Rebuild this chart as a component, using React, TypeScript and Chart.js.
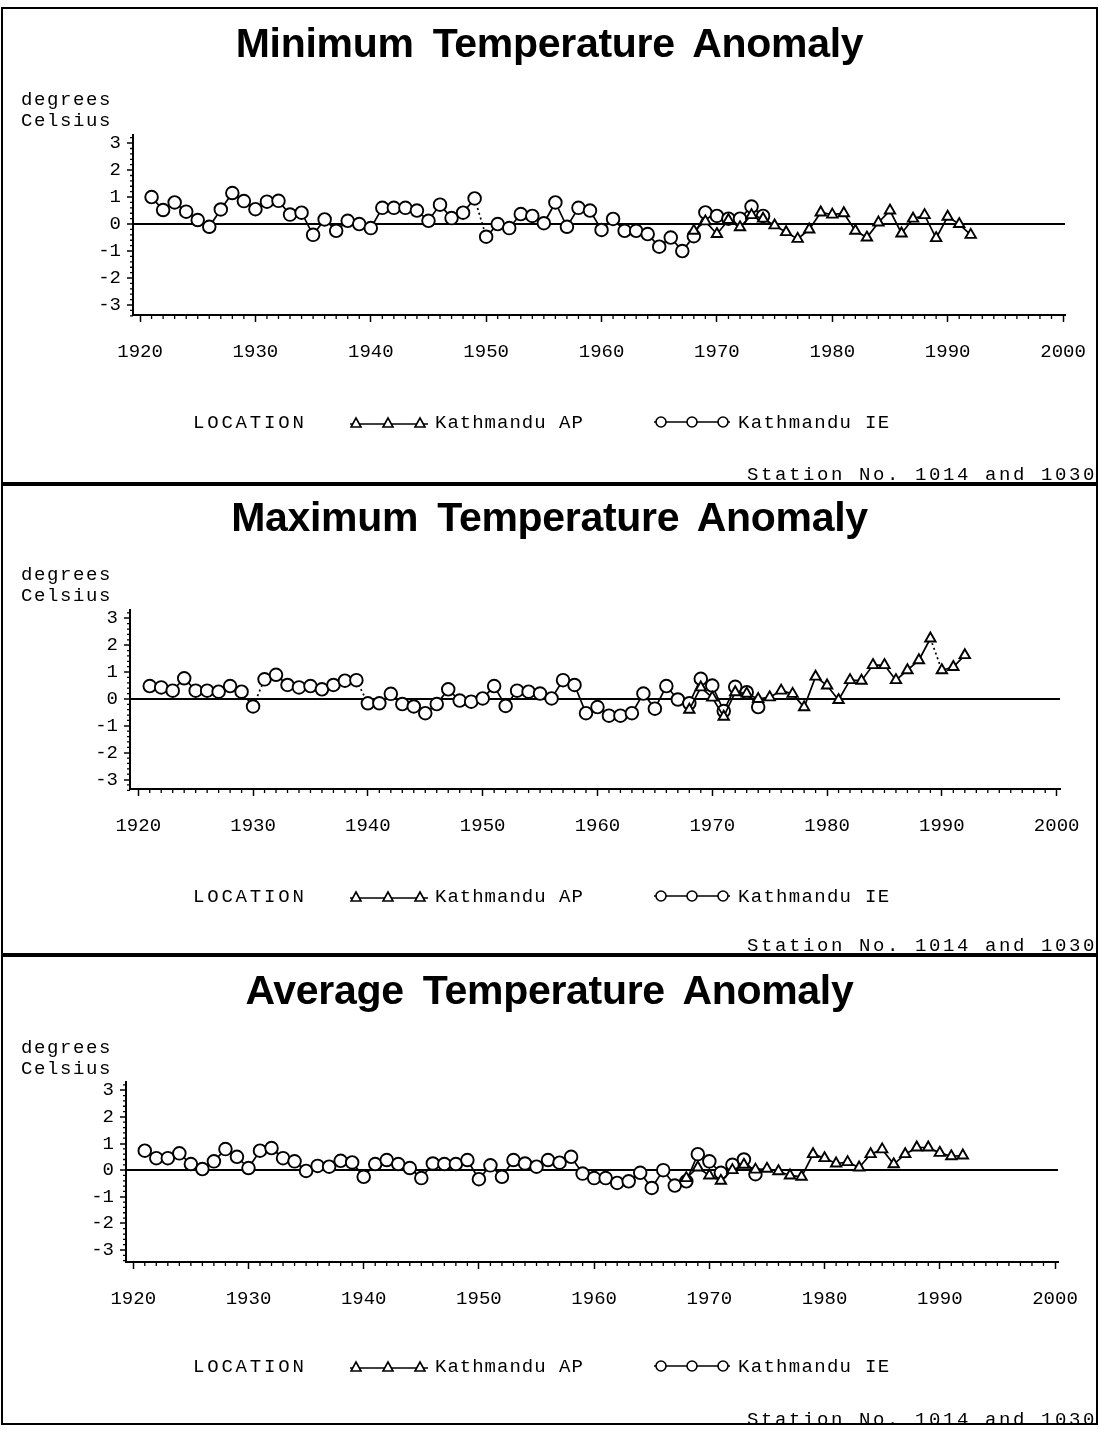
import React, { useEffect, useRef } from 'react';
import { Chart, registerables } from 'chart.js';
Chart.register(...registerables);

if (typeof document !== 'undefined') {
  document.body.style.margin = '0';
  document.body.style.background = '#fff';
}

// ---------- DATA ----------
const IE_START = 1921;
const AP_START = 1968;

const minIE = [1.0, 0.52, 0.8, 0.46, 0.15, -0.1, 0.54, 1.15, 0.85, 0.55, 0.83, 0.86, 0.35, 0.42, -0.4, 0.17, -0.25, 0.12, 0.0, -0.15,
  0.6, 0.6, 0.6, 0.5, 0.12, 0.72, 0.22, 0.42, 0.95, -0.47, 0.0, -0.15, 0.37, 0.3, 0.03, 0.8, -0.1, 0.6, 0.5, -0.22,
  0.19, -0.25, -0.25, -0.37, -0.84, -0.5, -1.0, -0.45, 0.43, 0.3, 0.2, 0.2, 0.65, 0.3];
const minAP = [-0.25, 0.1, -0.37, 0.15, -0.12, 0.33, 0.2, -0.05, -0.3, -0.55, -0.2, 0.43, 0.35, 0.4, -0.25, -0.5, 0.06, 0.5, -0.35, 0.2,
  0.33, -0.52, 0.27, 0.0, -0.4];

const maxIE = [0.48, 0.43, 0.31, 0.77, 0.31, 0.31, 0.27, 0.48, 0.27, -0.28, 0.73, 0.9, 0.52, 0.43, 0.48, 0.36, 0.52, 0.68, 0.7, -0.16,
  -0.16, 0.19, -0.19, -0.28, -0.53, -0.19, 0.36, -0.06, -0.1, 0.02, 0.48, -0.26, 0.31, 0.27, 0.2, 0.02, 0.7, 0.52, -0.53, -0.3,
  -0.62, -0.62, -0.53, 0.2, -0.36, 0.48, -0.02, -0.16, 0.75, 0.5, -0.45, 0.45, 0.25, -0.3];
const maxAP = [-0.4, 0.43, 0.05, -0.66, 0.25, 0.2, 0.0, 0.06, 0.31, 0.19, -0.31, 0.83, 0.5, -0.04, 0.7, 0.68, 1.26, 1.26, 0.7, 1.07,
  1.44, 2.25, 1.07, 1.19, 1.63];

const avgIE = [0.73, 0.45, 0.45, 0.63, 0.23, 0.04, 0.33, 0.79, 0.5, 0.08, 0.73, 0.83, 0.45, 0.33, -0.03, 0.16, 0.13, 0.35, 0.29, -0.25,
  0.23, 0.38, 0.23, 0.08, -0.3, 0.25, 0.23, 0.23, 0.38, -0.34, 0.18, -0.25, 0.38, 0.25, 0.13, 0.38, 0.28, 0.5, -0.13, -0.3,
  -0.3, -0.48, -0.42, -0.1, -0.67, 0.0, -0.58, -0.42, 0.6, 0.33, -0.1, 0.2, 0.4, -0.15];
const avgAP = [-0.3, 0.1, -0.2, -0.4, 0.0, 0.2, 0.02, 0.05, -0.04, -0.2, -0.25, 0.6, 0.45, 0.25, 0.3, 0.1, 0.6, 0.78, 0.22, 0.6,
  0.85, 0.85, 0.65, 0.52, 0.55];

const X_TICKS = [1920, 1930, 1940, 1950, 1960, 1970, 1980, 1990, 2000];
const Y_TICKS = [-3, -2, -1, 0, 1, 2, 3];
const TITLES = ['Minimum Temperature Anomaly', 'Maximum Temperature Anomaly', 'Average Temperature Anomaly'];
const SERIES_NAMES = ['Kathmandu AP', 'Kathmandu IE'];
const LEGEND_TITLE = 'LOCATION';
const UNIT_LINES = ['degrees', 'Celsius'];
const FOOTER = 'Station No. 1014 and 1030';

// dotted connections (start year of segment)
const minDashIE = [1949];
const maxDashIE = [1929, 1930, 1939];
const maxDashAP = [1989];
const avgDashIE: number[] = [];

// ---------- LAYOUT ----------
const PANELS = [
  { top: 7, height: 477, title: TITLES[0], ie: minIE, ap: minAP, dashIE: minDashIE, dashAP: [] as number[],
    area: { left: 133, right: 1065, top: 128, bottom: 308 }, xr: [1919.39, 2000.17], yr: [-3.37, 3.3],
    titleY: 36, unitY: 93, legendY: 416, footerY: 468 },
  { top: 484, height: 471, title: TITLES[1], ie: maxIE, ap: maxAP, dashIE: maxDashIE, dashAP: maxDashAP,
    area: { left: 130, right: 1060, top: 126, bottom: 305 }, xr: [1919.28, 2000.29], yr: [-3.35, 3.31],
    titleY: 33, unitY: 91, legendY: 413, footerY: 462 },
  { top: 955, height: 470, title: TITLES[2], ie: avgIE, ap: avgAP, dashIE: avgDashIE, dashAP: [] as number[],
    area: { left: 126, right: 1058, top: 127, bottom: 307 }, xr: [1919.37, 2000.26], yr: [-3.45, 3.31],
    titleY: 35, unitY: 93, legendY: 412, footerY: 465 },
];

const MONO = "'Liberation Mono', 'DejaVu Sans Mono', monospace";
const X_AXIS_H = 60;

function Panel({ cfg }: { cfg: any }) {
  const ref = useRef<HTMLCanvasElement>(null);
  useEffect(() => {
    const a = cfg.area;
    const H = cfg.height;
    const toPts = (start: number, vals: number[]) => vals.map((v, i) => ({ x: start + i, y: v }));
    const dashSeg = (years: number[]) => ({
      borderDash: (c: any) => (years.includes(c.p0.parsed.x) ? [2, 3] : undefined),
    });
    const minorTicks = {
      id: 'minorTicks',
      afterDraw(chart: any) {
        const { ctx } = chart;
        const xs = chart.scales.x;
        const ys = chart.scales.y;
        ctx.save();
        ctx.strokeStyle = '#000';
        ctx.lineWidth = 1.3;
        ctx.beginPath();
        for (let yr = Math.ceil(xs.min); yr <= Math.floor(xs.max); yr++) {
          if (yr % 10 === 0) continue;
          const px = xs.getPixelForValue(yr);
          ctx.moveTo(px, xs.top);
          ctx.lineTo(px, xs.top + 4);
        }
        for (let k = -17; k <= 16; k++) {
          if (k % 5 === 0) continue;
          const py = ys.getPixelForValue(k / 5);
          ctx.moveTo(ys.right, py);
          ctx.lineTo(ys.right - 3, py);
        }
        ctx.stroke();
        ctx.restore();
      },
    };
    const tickFont = { family: MONO, size: 19 };
    const chart = new Chart(ref.current as HTMLCanvasElement, {
      type: 'line',
      data: {
        datasets: [
          {
            label: SERIES_NAMES[0],
            data: toPts(AP_START, cfg.ap),
            borderColor: '#000',
            borderWidth: 1.7,
            pointStyle: 'triangle',
            pointRadius: 6,
            pointBorderWidth: 1.9,
            pointBackgroundColor: '#fff',
            pointBorderColor: '#000',
            tension: 0,
            segment: dashSeg(cfg.dashAP),
          } as any,
          {
            label: SERIES_NAMES[1],
            data: toPts(IE_START, cfg.ie),
            borderColor: '#000',
            borderWidth: 1.7,
            pointStyle: 'circle',
            pointRadius: 6.3,
            pointBorderWidth: 1.9,
            pointBackgroundColor: '#fff',
            pointBorderColor: '#000',
            tension: 0,
            segment: dashSeg(cfg.dashIE),
          } as any,
        ],
      },
      options: {
        animation: false,
        responsive: false,
        maintainAspectRatio: false,
        layout: { padding: { left: 0, top: a.top, right: 1099 - a.right, bottom: H - a.bottom - X_AXIS_H } },
        plugins: { legend: { display: false }, title: { display: false }, tooltip: { enabled: false } },
        scales: {
          x: {
            type: 'linear',
            min: cfg.xr[0],
            max: cfg.xr[1],
            afterBuildTicks: (s: any) => { s.ticks = X_TICKS.map((v) => ({ value: v })); },
            afterFit: (s: any) => { s.height = X_AXIS_H; s.paddingLeft = 0; s.paddingRight = 0; },
            border: { display: true, color: '#000', width: 2 },
            grid: { drawOnChartArea: false, drawTicks: true, tickLength: 7, tickColor: '#000', tickWidth: 1.5 },
            ticks: { color: '#000', font: tickFont, padding: 19, maxRotation: 0, autoSkip: false, callback: (v: any) => String(v) },
          },
          y: {
            type: 'linear',
            min: cfg.yr[0],
            max: cfg.yr[1],
            afterBuildTicks: (s: any) => { s.ticks = Y_TICKS.map((v) => ({ value: v })); },
            afterFit: (s: any) => { s.width = a.left; s.paddingTop = 0; s.paddingBottom = 0; },
            border: { display: true, color: '#000', width: 2 },
            grid: {
              drawOnChartArea: true,
              drawTicks: true,
              color: (c: any) => (c.tick && c.tick.value === 0 ? '#000' : 'rgba(0,0,0,0)'),
              lineWidth: 2,
              tickLength: 6,
              tickColor: '#000',
              tickWidth: 1.5,
            },
            ticks: { color: '#000', font: tickFont, padding: 6, autoSkip: false, callback: (v: any) => String(v) },
          },
        },
      } as any,
      plugins: [minorTicks],
    });
    return () => chart.destroy();
  }, [cfg]);

  const textStyle: React.CSSProperties = {
    position: 'absolute', fontFamily: MONO, fontSize: 19, color: '#000', whiteSpace: 'pre', lineHeight: '22px',
  };
  return (
    <div style={{ position: 'absolute', left: 0, top: cfg.top, width: 1099, height: cfg.height }}>
      <div style={{ position: 'absolute', left: 1, top: 0, width: 1097, height: cfg.height, boxSizing: 'border-box', border: '2px solid #000' }} />
      <canvas ref={ref} width={1099} height={cfg.height} style={{ position: 'absolute', left: 0, top: 0, width: 1099, height: cfg.height }} />
      <div style={{ position: 'absolute', left: 0, width: 1099, top: cfg.titleY - 25, height: 50, lineHeight: '50px', textAlign: 'center',
        fontFamily: "'Liberation Sans', Arial, sans-serif", fontWeight: 'bold', fontSize: 41, wordSpacing: 8, letterSpacing: -0.3, color: '#000' }}>
        {cfg.title}
      </div>
      <div style={{ ...textStyle, left: 21, top: cfg.unitY - 11, letterSpacing: 1.6 }}>{UNIT_LINES[0]}</div>
      <div style={{ ...textStyle, left: 21, top: cfg.unitY + 10, letterSpacing: 1.6 }}>{UNIT_LINES[1]}</div>
      <div style={{ ...textStyle, left: 193, top: cfg.legendY - 11, letterSpacing: 2.8 }}>{LEGEND_TITLE}</div>
      <svg style={{ position: 'absolute', left: 350, top: cfg.legendY - 9 }} width={78} height={16}>
        <line x1={0} y1={10} x2={78} y2={10} stroke="#000" strokeWidth={1.5} />
        {[6, 38, 70].map((cx) => (
          <polygon key={cx} points={`${cx - 5},13 ${cx + 5},13 ${cx},4`} fill="#fff" stroke="#000" strokeWidth={1.6} />
        ))}
      </svg>
      <div style={{ ...textStyle, left: 435, top: cfg.legendY - 11, letterSpacing: 1 }}>{SERIES_NAMES[0]}</div>
      <svg style={{ position: 'absolute', left: 654, top: cfg.legendY - 9 }} width={76} height={16}>
        <line x1={0} y1={8} x2={76} y2={8} stroke="#000" strokeWidth={1.5} />
        {[7, 38, 69].map((cx) => (
          <circle key={cx} cx={cx} cy={8} r={5} fill="#fff" stroke="#000" strokeWidth={1.6} />
        ))}
      </svg>
      <div style={{ ...textStyle, left: 738, top: cfg.legendY - 11, letterSpacing: 1.3 }}>{SERIES_NAMES[1]}</div>
      <div style={{ ...textStyle, right: 2, top: cfg.footerY - 11, letterSpacing: 2.6 }}>{FOOTER}</div>
    </div>
  );
}

export default function App() {
  return (
    <div style={{ position: 'relative', width: 1099, height: 1430, overflow: 'hidden', background: '#fff' }}>
      {PANELS.map((p, i) => (
        <Panel key={i} cfg={p} />
      ))}
    </div>
  );
}
